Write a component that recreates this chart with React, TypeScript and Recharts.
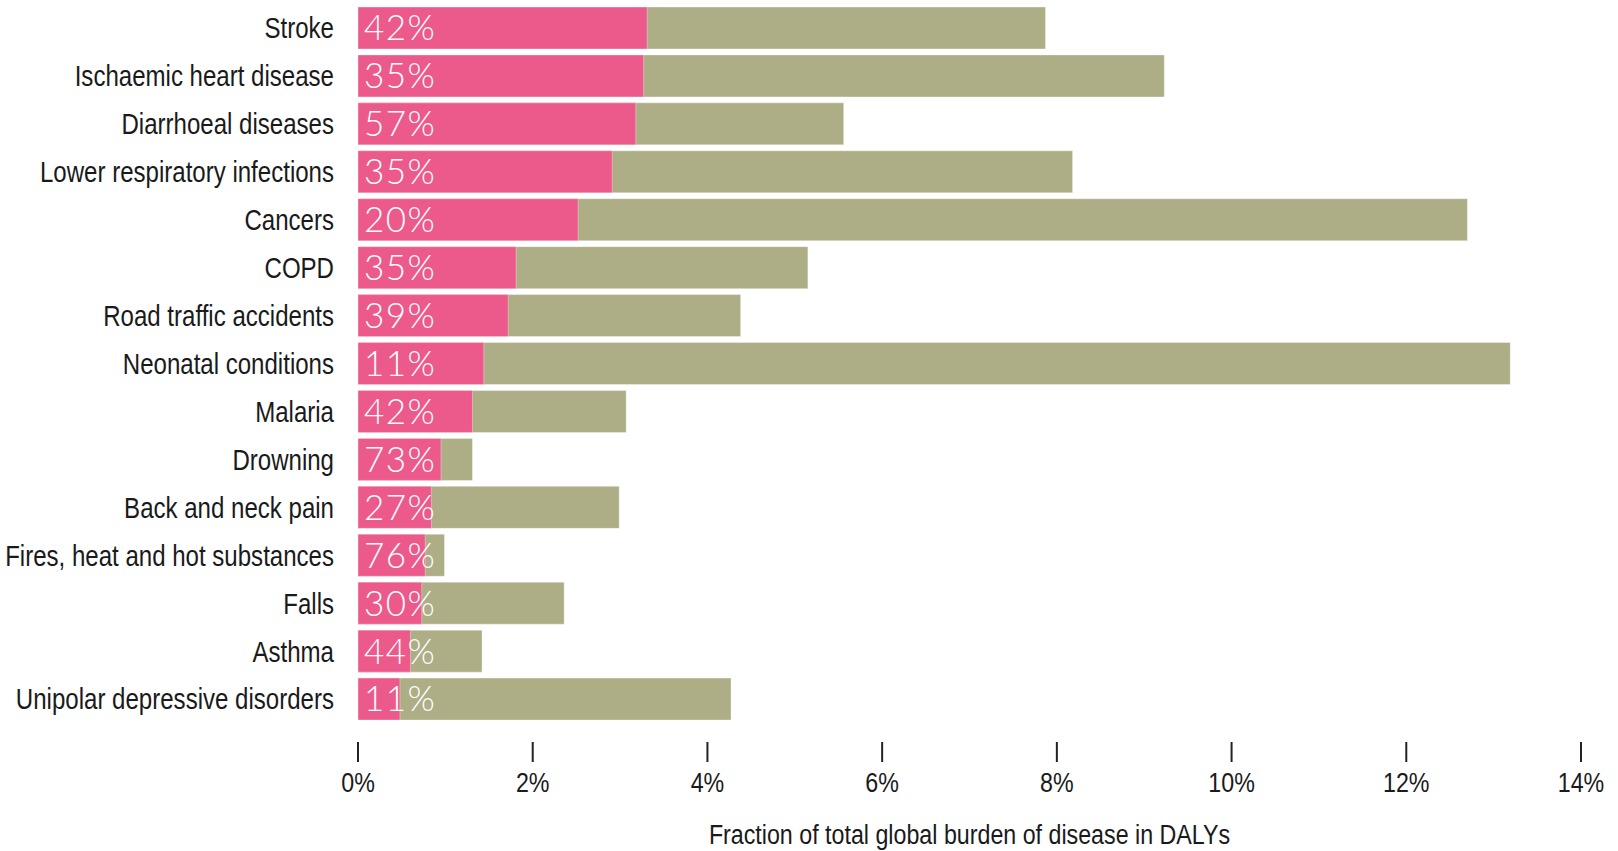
import React from 'react';
import { BarChart, Bar, XAxis, YAxis, LabelList } from 'recharts';

const categories = [
  'Stroke',
  'Ischaemic heart disease',
  'Diarrhoeal diseases',
  'Lower respiratory infections',
  'Cancers',
  'COPD',
  'Road traffic accidents',
  'Neonatal conditions',
  'Malaria',
  'Drowning',
  'Back and neck pain',
  'Fires, heat and hot substances',
  'Falls',
  'Asthma',
  'Unipolar depressive disorders',
];

// share of total global DALYs (%)
const totalBurden = [7.87, 9.23, 5.56, 8.18, 12.7, 5.15, 4.38, 13.19, 3.07, 1.31, 2.99, 0.99, 2.36, 1.42, 4.27];
// part attributable to the environment (%)
const envBurden = [3.31, 3.27, 3.18, 2.91, 2.52, 1.81, 1.72, 1.44, 1.31, 0.95, 0.84, 0.77, 0.73, 0.6, 0.48];
const envShareLabels = ['42%', '35%', '57%', '35%', '20%', '35%', '39%', '11%', '42%', '73%', '27%', '76%', '30%', '44%', '11%'];

const xTicks = [0, 2, 4, 6, 8, 10, 12, 14];

const data = categories.map((name, i) => ({
  name,
  total: totalBurden[i],
  env: envBurden[i],
  share: envShareLabels[i],
}));

// no condensed font installed, so squeeze Liberation Sans a bit
const labelFont = "'Liberation Sans', Arial, sans-serif";
const squeeze = 0.83;

const YTick = ({ x, y, payload }: any) => (
  <text
    transform={`translate(${x},${y}) scale(${squeeze},1)`}
    textAnchor="end"
    dy="0.36em"
    fill="#1a1a1a"
    fontSize={29}
    fontFamily={labelFont}
  >
    {payload.value}
  </text>
);

const XTick = ({ x, y, payload }: any) => (
  <g>
    <line x1={x} x2={x} y1={y + 19} y2={y + 39} stroke="#222" strokeWidth={2} />
    <text
      transform={`translate(${x},${y + 69}) scale(${squeeze},1)`}
      textAnchor="middle"
      fill="#1a1a1a"
      fontSize={28}
      fontFamily={labelFont}
    >
      {payload.value}%
    </text>
  </g>
);

const AxisTitle = ({ viewBox }: any) => (
  <text
    transform={`translate(${viewBox.x + viewBox.width / 2},${viewBox.y + 121}) scale(${squeeze},1)`}
    textAnchor="middle"
    fill="#1a1a1a"
    fontSize={28}
    fontFamily={labelFont}
  >
    Fraction of total global burden of disease in DALYs
  </text>
);

export default function App() {
  return (
    <div style={{ width: 1618, height: 851, background: '#fff' }}>
      <style>{'body{margin:0}'}</style>
      <BarChart
        width={1618}
        height={851}
        data={data}
        layout="vertical"
        margin={{ top: 4, right: 37, left: 0, bottom: 0 }}
        barGap={-42}
      >
        <XAxis
          type="number"
          domain={[0, 14]}
          ticks={xTicks}
          axisLine={false}
          tickLine={false}
          tickSize={0}
          tickMargin={0}
          height={128}
          tick={<XTick />}
          interval={0}
          label={<AxisTitle />}
        />
        <YAxis
          type="category"
          dataKey="name"
          width={358}
          axisLine={false}
          tickLine={false}
          tickSize={0}
          tickMargin={24}
          interval={0}
          tick={<YTick />}
        />
        <Bar
          dataKey="total"
          barSize={42}
          fill="#adae86"
          stroke="#ffffff"
          strokeOpacity={0.35}
          isAnimationActive={false}
        />
        <Bar
          dataKey="env"
          barSize={42}
          fill="#ec5a8b"
          stroke="#ffffff"
          strokeOpacity={0.35}
          isAnimationActive={false}
        >
          <LabelList
            dataKey="share"
            position="insideLeft"
            offset={6}
            fill="#ffffff"
            fontSize={35}
            fontWeight={300}
            letterSpacing={1.5}
            fontFamily="Lato, Inter, sans-serif"
          />
        </Bar>
      </BarChart>
    </div>
  );
}
